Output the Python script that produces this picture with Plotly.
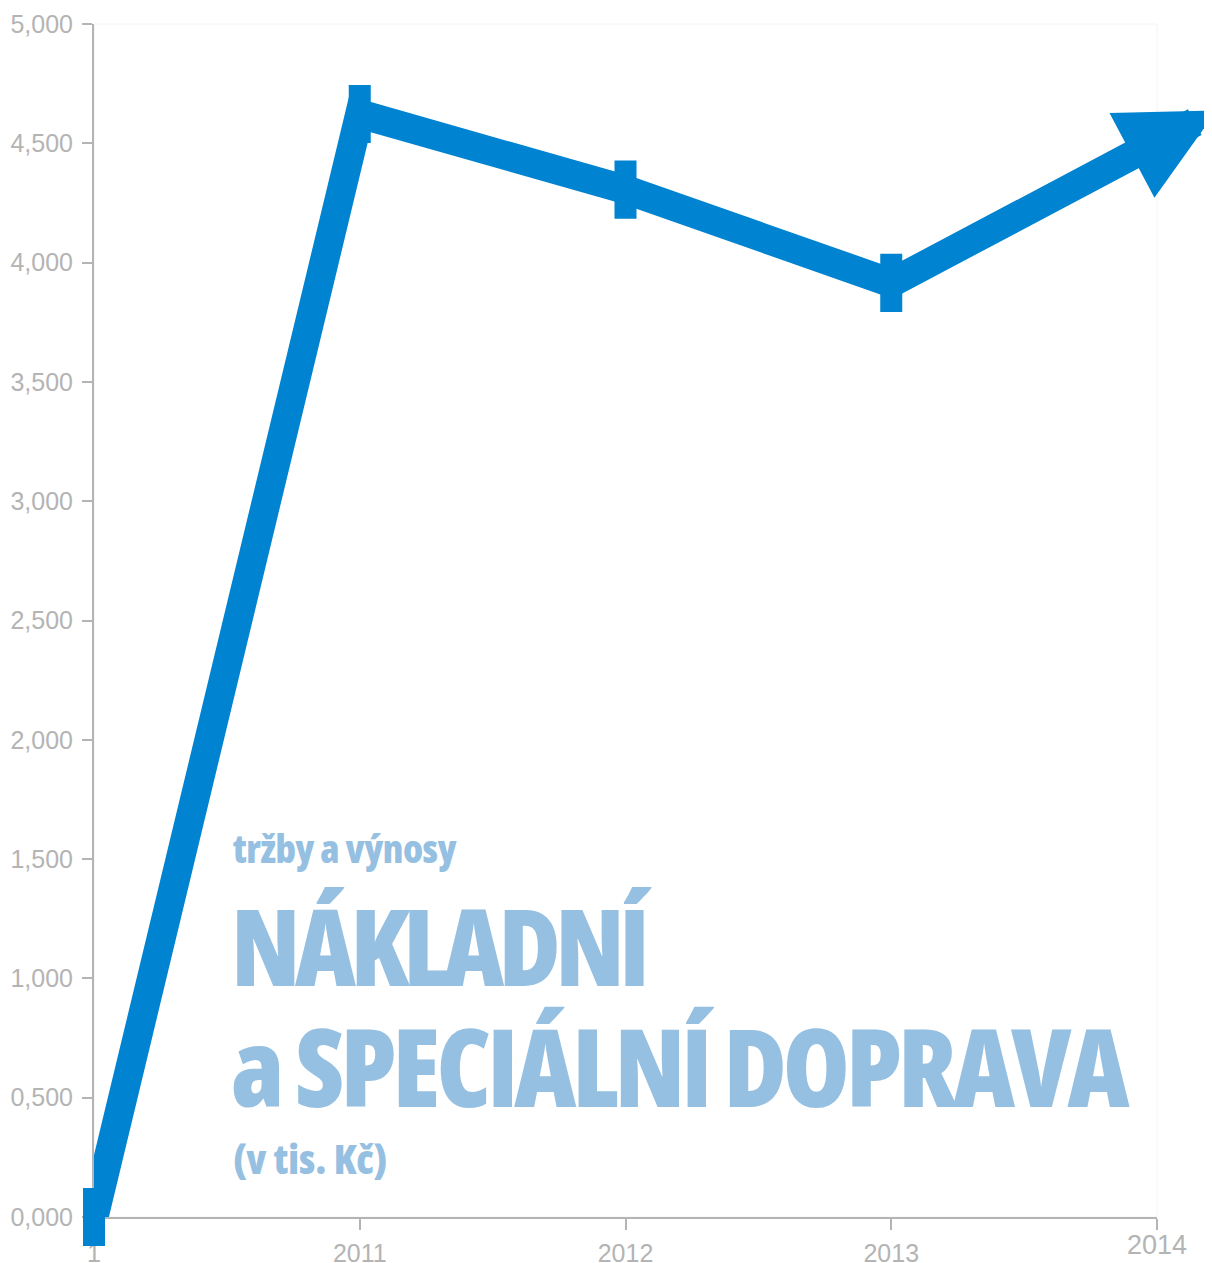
import plotly.graph_objects as go

years = [2010, 2011, 2012, 2013, 2014]
values = [0, 4623, 4306, 3915, 4505]
x_tick_labels = ["1", "2011", "2012", "2013", "2014"]
y_tick_vals = [0, 500, 1000, 1500, 2000, 2500, 3000, 3500, 4000, 4500, 5000]
y_tick_labels = ["0,000", "0,500", "1,000", "1,500", "2,000", "2,500",
                 "3,000", "3,500", "4,000", "4,500", "5,000"]
title_small = "tržby a výnosy"
title_big_1 = "NÁKLADNÍ"
title_big_2 = "a SPECIÁLNÍ DOPRAVA"
unit_text = "(v tis. Kč)"

BLUE = "#0083d0"
GRAY = "#b4b4b4"
TXT = "#96c0e1"

# plot area in page pixels (used only to place the decorative texts)
PX0, PX1, PY0, PY1 = 94, 1157, 24, 1217


def px(x):
    return (x - PX0) / (PX1 - PX0)


def py(y):
    return (PY1 - y) / (PY1 - PY0)


fig = go.Figure()
fig.add_trace(go.Scatter(
    x=years, y=values, mode="lines", line=dict(color=BLUE, width=29),
    cliponaxis=False, hoverinfo="skip", showlegend=False))
fig.add_trace(go.Scatter(
    x=years[:4], y=values[:4], mode="markers",
    marker=dict(symbol="line-ns", size=41.5, color=BLUE,
                line=dict(color=BLUE, width=22)),
    cliponaxis=False, hoverinfo="skip", showlegend=False))

# arrow head at the end of the line (extends the last segment)
ext = 0.225
tip_x = years[-1] + ext * (years[-1] - years[-2])
tip_y = values[-1] + ext * (values[-1] - values[-2])
fig.add_annotation(x=tip_x, y=tip_y, ax=years[-1], ay=values[-1],
                   xref="x", yref="y", axref="x", ayref="y", text="",
                   showarrow=True, arrowhead=2, arrowsize=19.2 / 29,
                   arrowwidth=29, arrowcolor=BLUE, standoff=0)


def styled(t, ls):
    return (f"<span style='font-stretch:condensed;font-weight:800;"
            f"letter-spacing:{ls}px'>{t}</span>")


texts = [
    (title_small, 39, -0.5, 231, 847),
    (title_big_1, 106, -5.5, 229, 945),
    (title_big_2, 108, -4, 229, 1065),
    (unit_text, 41, 0, 231, 1158),
]
for t, size, ls, x0, yc in texts:
    fig.add_annotation(x=px(x0), y=py(yc), xref="paper", yref="paper",
                       xanchor="left", yanchor="middle", showarrow=False,
                       text=styled(t, ls),
                       font=dict(family="Open Sans", size=size, color=TXT,
                                 weight=800))

# last x label sits a bit higher and larger
fig.add_annotation(x=years[-1], y=py(1245), xref="x", yref="paper",
                   xanchor="center", yanchor="middle", showarrow=False,
                   text=x_tick_labels[-1],
                   font=dict(family="Liberation Sans, Arial, sans-serif",
                             size=27, color=GRAY))

# faint frame top / right
fig.add_shape(type="rect", xref="paper", yref="paper", x0=0, x1=1, y0=0, y1=1,
              line=dict(color="#f4f4f4", width=1), layer="below")

fig.update_layout(
    width=1204, height=1255,
    margin=dict(l=86, r=55, t=16, b=46),
    paper_bgcolor="white", plot_bgcolor="white",
    font=dict(family="Liberation Sans, Arial, sans-serif", color=GRAY),
)
fig.update_xaxes(range=[2010, 2014], tickvals=years,
                 ticktext=x_tick_labels[:-1] + [""],
                 showgrid=False, zeroline=False, showline=True, linecolor=GRAY,
                 linewidth=2, ticks="outside", ticklen=11, tickwidth=2,
                 tickcolor=GRAY, tickfont=dict(size=25, color=GRAY),
                 ticklabelstandoff=2, automargin=False, layer="below traces")
fig.update_yaxes(range=[0, 5000], tickvals=y_tick_vals, ticktext=y_tick_labels,
                 showgrid=False, zeroline=False, showline=True, linecolor=GRAY,
                 linewidth=2, ticks="outside", ticklen=10, tickwidth=2,
                 tickcolor=GRAY, tickfont=dict(size=25, color=GRAY),
                 ticklabelstandoff=4, automargin=False, layer="below traces")
fig.write_html("out.html")
